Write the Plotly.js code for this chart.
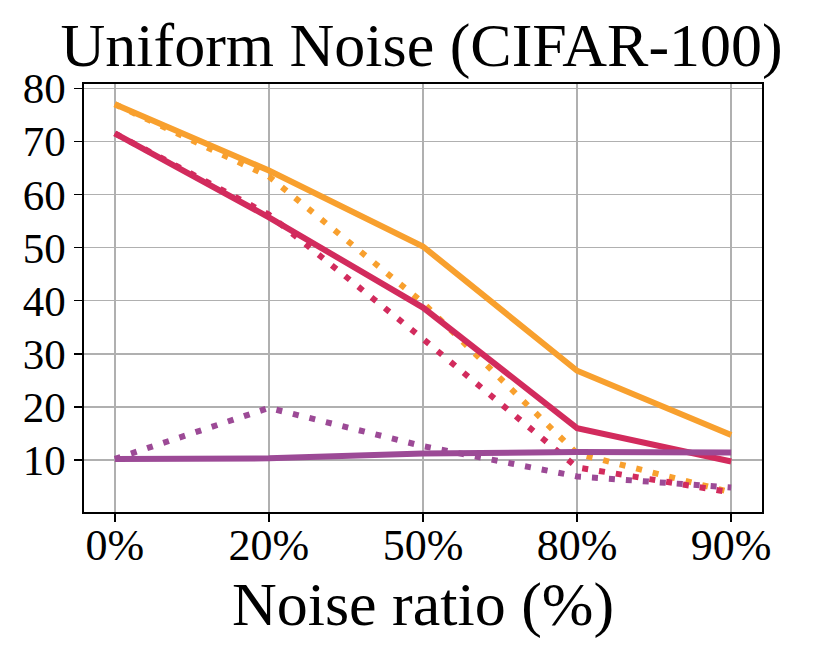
<!DOCTYPE html>
<html>
<head>
<meta charset="utf-8">
<script src="https://cdn.plot.ly/plotly-3.0.1.min.js"></script>
<style>
  html, body { margin: 0; padding: 0; background: #fff; }
  #chart { width: 830px; height: 664px; }
</style>
</head>
<body>
<div id="chart"></div>
<script>
var noiseRatios = ['0%', '20%', '50%', '80%', '90%']

// accuracy (%)
var orangeSolid  = [77.0, 64.5, 50.2, 26.8, 14.7]
var orangeDotted = [77.0, 63.4, 39.6, 11.2, 3.9]
var redSolid     = [71.5, 55.7, 38.7, 16.0, 9.7]
var redDotted    = [71.5, 56.2, 32.8, 8.6, 3.9]
var purpleSolid  = [10.2, 10.3, 11.2, 11.5, 11.4]
var purpleDotted = [10.2, 19.8, 12.6, 6.9, 4.8]

var orange = '#f8a02e'
var red = '#d22b5d'
var purple = '#9c4a96'
var dotted = '6px,11px'

function line(y, color, dash) {
  return {
    x: noiseRatios,
    y: y,
    mode: 'lines',
    type: 'scatter',
    line: {color: color, width: 6, dash: dash || 'solid'},
    hoverinfo: 'skip'
  }
}

var data = [
  line(orangeSolid, orange),
  line(orangeDotted, orange, dotted),
  line(redSolid, red),
  line(redDotted, red, dotted),
  line(purpleSolid, purple),
  line(purpleDotted, purple, dotted)
]

var font = 'Liberation Serif, Times New Roman, serif'

var layout = {
  width: 830,
  height: 664,
  showlegend: false,
  paper_bgcolor: '#fff',
  plot_bgcolor: '#fff',
  font: {family: font, color: '#000'},
  margin: {l: 84, r: 68, t: 84, b: 152},
  title: {
    text: 'Uniform Noise (CIFAR-100)',
    font: {size: 62, family: font, color: '#000'},
    x: 0.508, xanchor: 'center',
    yref: 'container', y: 0.933, yanchor: 'middle'
  },
  xaxis: {
    type: 'category',
    range: [-0.2, 4.2],
    showgrid: true,
    gridcolor: '#b0b0b0',
    gridwidth: 1.5,
    showline: true,
    linecolor: '#000',
    linewidth: 1.6,
    mirror: true,
    ticks: 'outside',
    ticklen: 8,
    tickwidth: 1.5,
    tickcolor: '#000',
    ticklabelstandoff: -14,
    tickfont: {size: 44, family: font},
    zeroline: false,
    title: {text: 'Noise ratio (%)', font: {size: 62, family: font}, standoff: 0}
  },
  yaxis: {
    range: [0.2, 80.8],
    tickvals: [10, 20, 30, 40, 50, 60, 70, 80],
    showgrid: true,
    gridcolor: '#b0b0b0',
    gridwidth: 1.5,
    showline: true,
    linecolor: '#000',
    linewidth: 1.6,
    mirror: true,
    ticks: 'outside',
    ticklen: 8,
    tickwidth: 1.5,
    tickcolor: '#000',
    tickfont: {size: 43, family: font},
    zeroline: false
  }
}

Plotly.newPlot('chart', data, layout, {staticPlot: true})
</script>
</body>
</html>
